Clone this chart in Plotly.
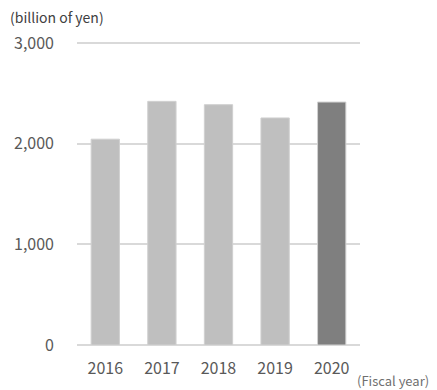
import plotly.graph_objects as go

years = ["2016", "2017", "2018", "2019", "2020"]
sales = [2046, 2422, 2389, 2257, 2415]
bar_colors = ["#bfbfbf", "#bfbfbf", "#bfbfbf", "#bfbfbf", "#7f7f7f"]
y_ticks = [0, 1000, 2000, 3000]
y_labels = ["0", "1,000", "2,000", "3,000"]

font = "Noto Sans CJK JP"

fig = go.Figure()
fig.add_bar(
    x=years,
    y=sales,
    width=0.5,
    marker=dict(color=bar_colors, line=dict(width=1, color="#d0d0d0")),
)

fig.update_layout(
    width=437,
    height=390,
    margin=dict(l=77, r=77, t=42, b=45),
    plot_bgcolor="white",
    paper_bgcolor="white",
    showlegend=False,
    font=dict(family=font, size=16, color="#595959"),
    xaxis=dict(
        showgrid=False,
        showline=False,
        ticks="",
        ticklabelstandoff=12,
        tickfont=dict(size=16, color="#595959"),
    ),
    yaxis=dict(
        range=[0, 3012],
        tickvals=y_ticks,
        ticktext=y_labels,
        showgrid=True,
        gridcolor="#d9d9d9",
        gridwidth=2,
        zeroline=True,
        zerolinecolor="#d9d9d9",
        zerolinewidth=2,
        showline=False,
        ticks="",
        ticklabelstandoff=22,
        tickfont=dict(size=16, color="#595959"),
    ),
)

fig.add_annotation(
    text="(billion of yen)",
    xref="paper", yref="paper",
    x=-0.244, y=1.0, yshift=25,
    xanchor="left", yanchor="middle",
    showarrow=False,
    font=dict(family=font, size=14, color="#404040"),
)
fig.add_annotation(
    text="(Fiscal year)",
    xref="paper", yref="paper",
    x=0.986, y=0, yshift=-35,
    xanchor="left", yanchor="middle",
    showarrow=False,
    borderpad=0,
    font=dict(family=font, size=13, color="#6f6f6f"),
)

fig.write_html(
    "out.html",
    config={"displayModeBar": False},
    post_script="document.body.style.margin='0';",
)
